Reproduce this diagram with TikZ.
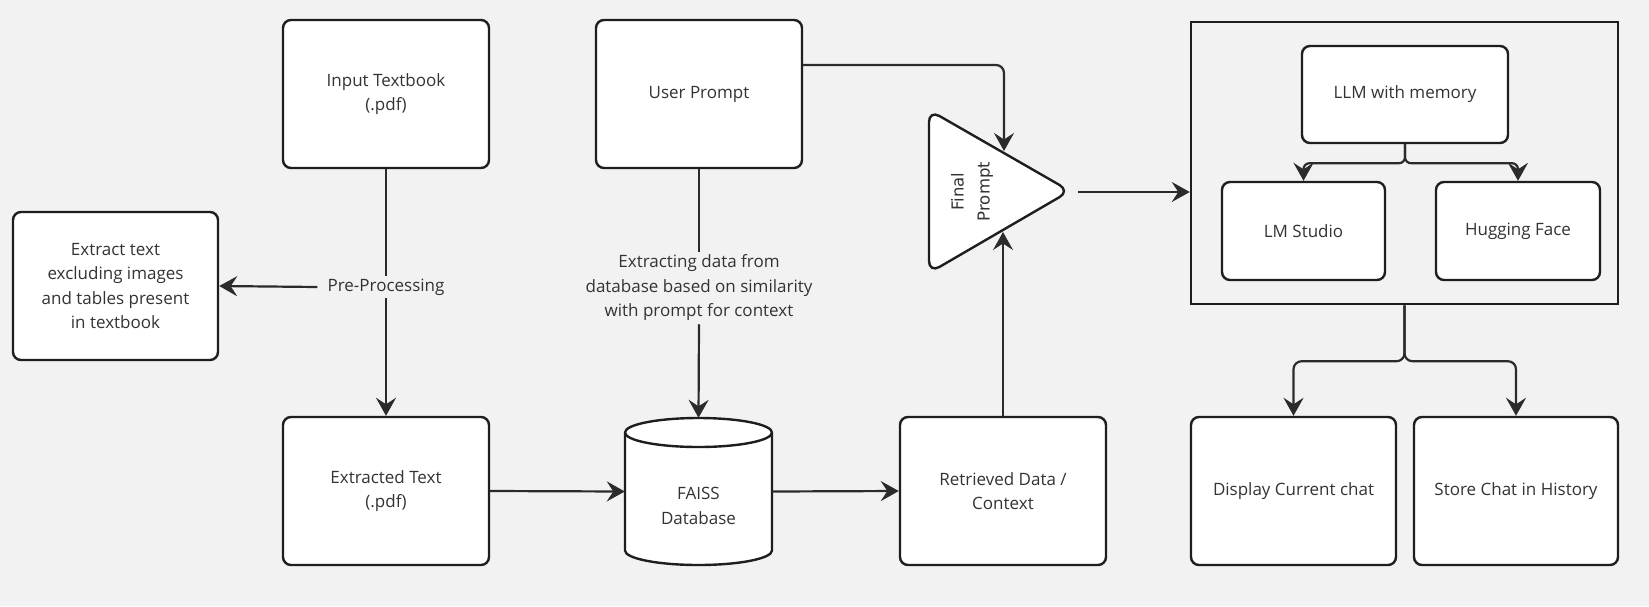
\documentclass[tikz,border=0pt]{standalone}
\usepackage{fontspec}
\setmainfont{Open Sans}
\newfontfamily\fpfont{DejaVu Sans}
\usetikzlibrary{arrows.meta}
\definecolor{bg}{HTML}{F2F2F2}
\definecolor{ink}{HTML}{1E1E1E}
\definecolor{txt}{HTML}{333333}
\definecolor{wire}{HTML}{2B2B2B}
\begin{document}
\begin{tikzpicture}[x=1pt,y=-1pt,
  box/.style={draw=ink, line width=2.4pt, fill=white, rounded corners=8pt, inner sep=0pt,
    align=center, text=txt, font=\fontsize{17}{24.5}\selectfont},
  conn/.style={draw=wire, line width=2.2pt, -{Stealth[length=18pt,width=20pt,inset=6.5pt]}},
  wireline/.style={draw=wire, line width=2.2pt},
  lbl/.style={text=txt, font=\fontsize{17}{24.5}\selectfont, align=center, inner xsep=10pt, inner ysep=3pt},
  anchorbox/.style={inner sep=0pt}]
\fill[bg] (0,0) rectangle (1649,606);
\useasboundingbox (0,0) rectangle (1649,606);

% boxes
\node[box, minimum width=206pt, minimum height=148pt] (inp) at (386,94) {Input Textbook\\(.pdf)};
\node[box, minimum width=206pt, minimum height=148pt] (up) at (699,94) {User Prompt};
\node[box, minimum width=205pt, minimum height=148pt] (extr) at (115.5,286) {Extract text\\excluding images\\and tables present\\in textbook};
\node[box, minimum width=206pt, minimum height=148pt] (ext) at (386,491) {Extracted Text\\(.pdf)};
\node[box, minimum width=206pt, minimum height=148pt] (ret) at (1003,491) {Retrieved Data /\\Context};
\node[box, minimum width=205pt, minimum height=148pt] (disp) at (1293.5,491) {Display Current chat};
\node[box, minimum width=204pt, minimum height=148pt] (store) at (1516,491) {Store Chat in History};

% container
\node[draw=ink, line width=2.5pt, minimum width=427pt, minimum height=282pt, inner sep=0pt] (cont) at (1404.5,163) {};
\node[box, minimum width=206pt, minimum height=97pt] (llm) at (1405,94.5) {LLM with memory};
\node[box, minimum width=163pt, minimum height=98pt] (lms) at (1303.5,231) {LM Studio};
\node[box, minimum width=164pt, minimum height=98pt] (hf) at (1518,231) {Hugging Face};

% FAISS cylinder
\node[anchorbox, minimum width=147pt, minimum height=147pt] (faiss) at (698.5,491.5) {};
\filldraw[fill=white, draw=ink, line width=2.4pt]
  (625,432.5) -- (625,550.5) arc[start angle=180, end angle=0, x radius=73.5, y radius=14.5]
  -- (772,432.5) arc[start angle=0, end angle=-180, x radius=73.5, y radius=14.5] -- cycle;
\draw[draw=ink, line width=2.4pt] (625,432.5) arc[start angle=180, end angle=0, x radius=73.5, y radius=14.5];
\node[align=center, text=txt, font=\fontsize{17}{24.5}\selectfont] (faisstxt) at (698.5,506) {FAISS\\Database};

% Final prompt triangle
\filldraw[fill=white, draw=ink, line width=2.4pt, rounded corners=12pt]
  (929,110) -- (1070,191) -- (929,273) -- cycle;
\node[rotate=90, align=center, text=txt, font=\fpfont\fontsize{16.5}{26}\selectfont] (fp) at (972,191.5) {Final\\Prompt};
\coordinate (apex) at (1078,192);
\coordinate (tTop) at (1004,151);
\coordinate (tBot) at (1004,232);

% labels
\node[lbl] (pre) at (386,287) {Pre-Processing};
\node[lbl] (xd) at (699,288) {Extracting data from\\database based on similarity\\with prompt for context};

% connectors
\draw[wireline] (inp.south) -- (pre.north);
\draw[conn] (pre.south) -- (ext.north);
\draw[conn] (pre.west) -- (extr.east);
\draw[wireline] (up.south) -- (xd.north);
\draw[conn] (xd.south) -- (faiss.north);
\draw[conn] (ext.east) -- (faiss.west);
\draw[conn] (faiss.east) -- (ret.west);
\draw[conn] (ret.north) -- (ret.north |- tBot);
\draw[conn, rounded corners=8pt] ([yshift=29pt]up.east) -| (tTop);
\draw[conn] (apex) -- (cont.west |- apex);
\draw[conn, rounded corners=6pt] (llm.south) -- ++(0,19) -| (lms.north);
\draw[conn, rounded corners=6pt] (llm.south) -- ++(0,19) -| (hf.north);
\draw[conn, rounded corners=8pt] (cont.south) -- ++(0,56) -| (disp.north);
\draw[conn, rounded corners=8pt] (cont.south) -- ++(0,56) -| (store.north);
\end{tikzpicture}
\end{document}
